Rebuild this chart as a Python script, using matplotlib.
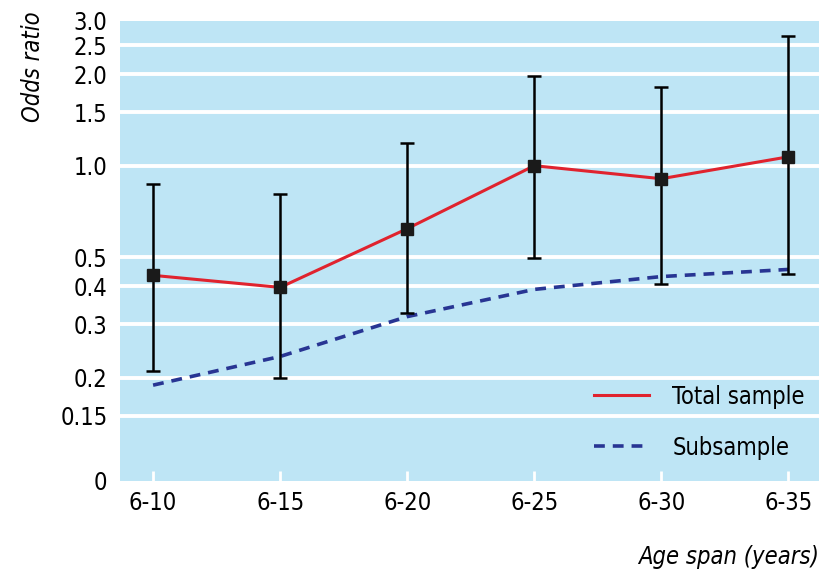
import matplotlib.pyplot as plt
import numpy as np
from matplotlib.ticker import NullLocator, FixedLocator, FixedFormatter

plt.rcParams['font.family'] = ['DejaVu Sans']
plt.rcParams['font.stretch'] = 'condensed'

age_spans = ['6-10', '6-15', '6-20', '6-25', '6-30', '6-35']
total = [0.435, 0.397, 0.62, 1.0, 0.906, 1.07]
total_lo = [0.21, 0.20, 0.328, 0.498, 0.406, 0.441]
total_hi = [0.873, 0.809, 1.19, 1.98, 1.82, 2.68]
subsample = [0.189, 0.235, 0.318, 0.391, 0.431, 0.455]

yticks = [0.0913, 0.15, 0.2, 0.3, 0.4, 0.5, 1.0, 1.5, 2.0, 2.5, 3.0]
yticklabels = ['0', '0.15', '0.2', '0.3', '0.4', '0.5', '1.0', '1.5', '2.0', '2.5', '3.0']

bg = '#bee5f5'
red = '#e0232e'
navy = '#283593'


def plotting():
    fig = plt.figure(figsize=(8.4, 5.8), dpi=100)
    ax = fig.add_axes([0.1429, 0.1707, 0.832, 0.7931])
    ax.set_facecolor(bg)
    for s in ax.spines.values():
        s.set_visible(False)

    x = np.arange(len(age_spans))
    tot = np.array(total)
    yerr = [tot - np.array(total_lo), np.array(total_hi) - tot]

    # white gridlines (not at the edges)
    for v in yticks[1:-1]:
        ax.axhline(v, color='white', lw=2.8, zorder=1)

    ax.errorbar(x, tot, yerr=yerr, fmt='none', ecolor='black', elinewidth=1.8,
                capsize=5, capthick=1.8, zorder=3)
    ax.plot(x, tot, '-', color=red, lw=2.2, zorder=4, label='Total sample')
    ax.plot(x, tot, 's', color='#1a1a1a', ms=9, zorder=5)
    ax.plot(x, subsample, '--', color=navy, lw=2.6, dashes=(3, 2.2), zorder=2,
            label='Subsample')

    ax.set_yscale('log')
    ax.set_ylim(yticks[0], yticks[-1])
    ax.set_xlim(-0.26, 5.24)
    ax.yaxis.set_major_locator(FixedLocator(yticks))
    ax.yaxis.set_major_formatter(FixedFormatter(yticklabels))
    ax.yaxis.set_minor_locator(NullLocator())
    ax.set_xticks(x)
    ax.set_xticklabels(age_spans)
    ax.tick_params(axis='y', length=0, pad=9, labelsize=17)
    ax.tick_params(axis='x', direction='in', color='white', length=7, width=2,
                   pad=7, labelsize=17)

    ax.set_ylabel('Odds ratio', style='italic', fontsize=17)
    ax.yaxis.set_label_coords(-0.107, 1.022)
    ax.yaxis.label.set_va('bottom')
    ax.yaxis.label.set_ha('right')
    ax.set_xlabel('Age span (years)', style='italic', fontsize=17, ha='right')
    ax.xaxis.set_label_coords(1.0, -0.14)

    ax.legend(loc='lower right', bbox_to_anchor=(1.01, 0.0), frameon=False,
              fontsize=17, handlelength=2.3, labelspacing=1.15, handletextpad=1.0)

    fig.savefig('out.png', dpi=100)


if __name__ == '__main__':
    plotting()
